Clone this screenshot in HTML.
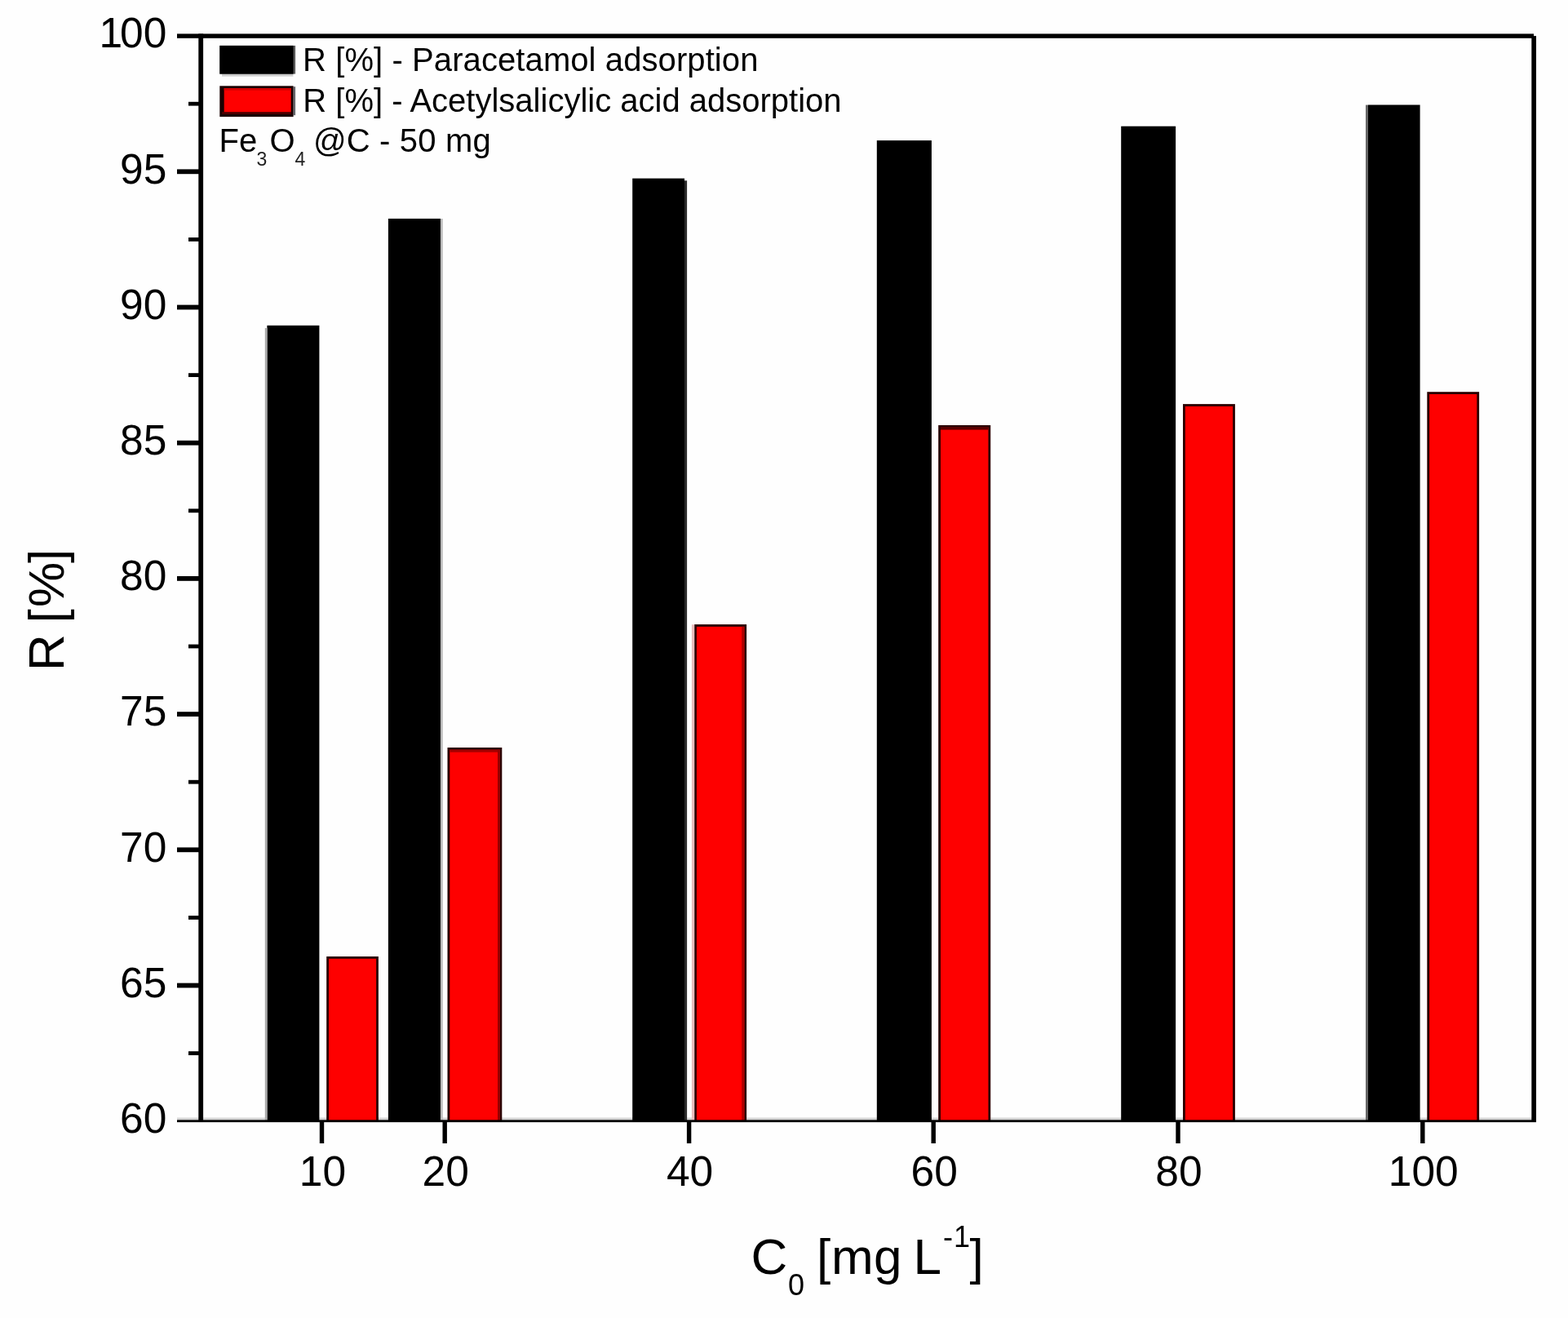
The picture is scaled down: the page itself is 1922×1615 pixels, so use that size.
<!DOCTYPE html>
<html lang="en">
<head>
<meta charset="utf-8">
<title>R [%] vs C0 - adsorption bar chart</title>
<style>
html,body{margin:0;padding:0;background:#fefefe;}
body{width:1922px;height:1615px;overflow:hidden;}
svg{display:block;}
text{font-family:"Liberation Sans",Arial,Helvetica,sans-serif;fill:#000;}
.tk{font-size:51.5px;}
.lg{font-size:40px;}
.ti{font-size:62px;}
.sb{font-size:36px;}
.ls{font-size:23px;fill:#222;}
</style>
</head>
<body>
<svg width="1922" height="1615" viewBox="0 0 1922 1615">
<rect x="0" y="0" width="1922" height="1615" fill="#fefefe"/>
<defs><clipPath id="plot"><rect x="249" y="46.8" width="1628.3" height="1328.2"/></clipPath></defs>

<rect x="217" y="1369.5" width="1663" height="3" fill="#d6d6d6"/>
<g id="bars" clip-path="url(#plot)">
<rect x="327.4" y="398.8" width="64.0" height="980.2" fill="#000"/>
<rect x="475.9" y="267.9" width="64.1" height="1111.1" fill="#000"/>
<rect x="775.2" y="218.6" width="63.8" height="1160.4" fill="#000"/>
<rect x="1074.8" y="172.1" width="67.1" height="1206.9" fill="#000"/>
<rect x="1374.2" y="154.7" width="66.9" height="1224.3" fill="#000"/>
<rect x="1676.9" y="128.5" width="63.7" height="1250.5" fill="#000"/>
<rect x="401.6" y="1173.4" width="60.9" height="209.0" fill="#fe0000" stroke="#2a0000" stroke-width="2.8"/>
<rect x="549.9" y="917.4" width="64.0" height="465.0" fill="#fe0000" stroke="#2a0000" stroke-width="2.8"/>
<rect x="852.5" y="766.5" width="61.2" height="615.9" fill="#fe0000" stroke="#2a0000" stroke-width="2.8"/>
<rect x="1151.6" y="522.4" width="61.2" height="860.0" fill="#fe0000" stroke="#2a0000" stroke-width="2.8"/>
<rect x="1451.4" y="496.5" width="61.1" height="885.9" fill="#fe0000" stroke="#2a0000" stroke-width="2.8"/>
<rect x="1750.7" y="481.6" width="61.0" height="900.8" fill="#fe0000" stroke="#2a0000" stroke-width="2.8"/>
</g>
<g id="edges" clip-path="url(#plot)">
<rect x="324.8" y="402" width="2.8" height="973.0" fill="#aaaaaa"/>
<rect x="539.9" y="268" width="2.8" height="1107.0" fill="#bbbbbb"/>
<rect x="838.9" y="221.3" width="3.2" height="1153.7" fill="#2c2c2c"/>
<rect x="1674.0" y="128.6" width="3.0" height="1246.4" fill="#666666"/>
<rect x="847.9" y="765.3" width="3.3" height="609.7" fill="#e9bdbd"/>
<rect x="551.2" y="918.7" width="61.4" height="3.0" fill="#a40000"/>
<rect x="610.0" y="918.7" width="2.6" height="456.3" fill="#960000"/>
<rect x="909.2" y="767.8" width="3.1" height="607.2" fill="#b00000"/>
<rect x="1152.9" y="523.7" width="58.6" height="2.9" fill="#5a0000"/>
</g>
<g id="frame" fill="#000">
<rect x="217" y="41.4" width="1663" height="5.4"/>
<rect x="243.3" y="41.4" width="5.8" height="1333.6"/>
<rect x="1877.3" y="44.1" width="5.7" height="1330.9"/>
<rect x="217" y="1372.3" width="1666" height="2.8"/>
<rect x="217" y="207.4" width="28" height="5.8"/>
<rect x="217" y="373.6" width="28" height="5.8"/>
<rect x="217" y="539.8" width="28" height="5.8"/>
<rect x="217" y="706.0" width="28" height="5.8"/>
<rect x="217" y="872.2" width="28" height="5.8"/>
<rect x="217" y="1038.4" width="28" height="5.8"/>
<rect x="217" y="1204.6" width="28" height="5.8"/>
<rect x="231" y="124.8" width="14" height="4.8"/>
<rect x="231" y="291.0" width="14" height="4.8"/>
<rect x="231" y="457.2" width="14" height="4.8"/>
<rect x="231" y="623.4" width="14" height="4.8"/>
<rect x="231" y="789.6" width="14" height="4.8"/>
<rect x="231" y="955.8" width="14" height="4.8"/>
<rect x="231" y="1122.0" width="14" height="4.8"/>
<rect x="231" y="1288.2" width="14" height="4.8"/>
<rect x="391.8" y="1373" width="5.4" height="28"/>
<rect x="542.5" y="1373" width="5.4" height="28"/>
<rect x="841.9" y="1373" width="5.4" height="28"/>
<rect x="1141.5" y="1373" width="5.4" height="28"/>
<rect x="1441.3" y="1373" width="5.4" height="28"/>
<rect x="1741.1" y="1373" width="5.4" height="28"/>
</g>
<g id="ylabels" class="tk" text-anchor="end">
<text text-anchor="start" x="121.38 147.02 175.66" y="58.4">100</text>
<text x="204.3" y="224.6">95</text>
<text x="204.3" y="390.8">90</text>
<text x="204.3" y="557.0">85</text>
<text x="204.3" y="723.2">80</text>
<text x="204.3" y="889.4">75</text>
<text x="204.3" y="1055.6">70</text>
<text x="204.3" y="1221.8">65</text>
<text x="204.3" y="1388.0">60</text>
</g>
<g id="xlabels" class="tk" text-anchor="middle">
<text x="395.5" y="1453.4">10</text>
<text x="546.2" y="1453.4">20</text>
<text x="845.6" y="1453.4">40</text>
<text x="1145.2" y="1453.4">60</text>
<text x="1445.0" y="1453.4">80</text>
<text x="1744.8" y="1453.4">100</text>
</g>
<text class="ti" y="1561.2"><tspan x="920.5">C</tspan><tspan class="sb" x="966" dy="25.4">0</tspan><tspan dy="-25.4" x="986 1001 1019 1071 1105 1119.5"> [mg L</tspan><tspan class="sb" x="1156 1169" dy="-33.2">-1</tspan><tspan x="1188.5" dy="33.2">]</tspan></text>
<text class="ti" transform="translate(77.6 0) rotate(-90)" y="0" x="-822.0 -777.0 -763.5 -744.0 -690.0">R [%]</text>
<g id="legend">
<rect x="272" y="90.4" width="87.4" height="3.2" fill="#cdcdcd"/>
<rect x="269.3" y="55.9" width="92.8" height="34.7" fill="#5c5c5c"/>
<rect x="269.3" y="55.9" width="90.3" height="34.7" fill="#000"/>
<rect x="359.6" y="106.2" width="2.5" height="35" fill="#66666c"/>
<rect x="269.3" y="105.3" width="90.3" height="37.8" fill="#1a0000"/>
<rect x="272.2" y="137.0" width="84.6" height="3.0" fill="#4a0000"/>
<rect x="274.7" y="108.0" width="82.0" height="29.2" fill="#fe0000"/>
<rect x="274.7" y="108.0" width="82.0" height="2.7" fill="#d20000"/>
<text class="lg" x="371.0" y="86.5" letter-spacing="0.09">R [%] - Paracetamol adsorption</text>
<text class="lg" x="371.3" y="136.6">R [%] - Acetylsalicylic acid adsorption</text>
<text class="lg" y="186.0"><tspan x="268.6">Fe</tspan><tspan class="ls" x="314.5" dy="17.2">3</tspan><tspan x="330.5" dy="-17.2">O</tspan><tspan class="ls" x="361.5" dy="17.2">4</tspan><tspan x="372.9 384.0" dy="-17.2" letter-spacing="0.16"> @C - 50 mg</tspan></text>
</g>
</svg>
</body>
</html>
